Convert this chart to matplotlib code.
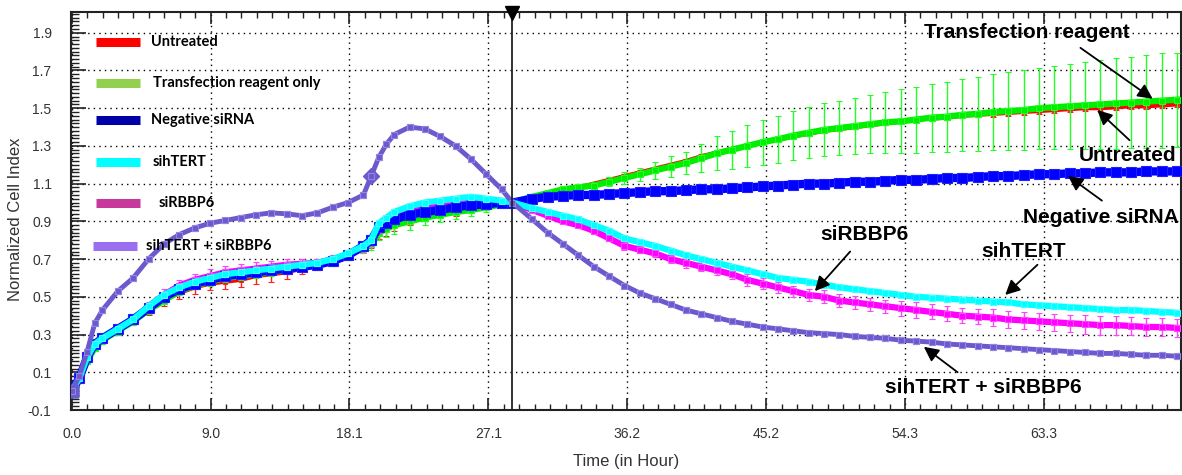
import numpy as np
import matplotlib
matplotlib.use("Agg")
import matplotlib.pyplot as plt
from matplotlib.ticker import FixedLocator, MultipleLocator

# time points (hours) at which the curves were read
hours = [0, 0.5, 1, 1.5, 2, 3, 4, 5, 6, 7, 8, 9, 10, 11, 12, 13, 14, 15, 16, 17, 18, 19, 19.5, 20, 20.5,
         21, 22, 23, 24, 25, 26, 27, 28, 28.7,
         30, 31, 32, 33, 34, 35, 36, 37, 38, 39, 40, 41, 42, 43, 44, 45, 46, 47, 48, 49, 50, 51, 52, 53,
         54, 55, 56, 57, 58, 59, 60, 61, 62, 63, 64, 65, 66, 67, 68, 69, 70, 71, 72]

untreated = [0.0, 0.07, 0.17, 0.24, 0.27, 0.32, 0.37, 0.43, 0.48, 0.52, 0.55, 0.57, 0.58, 0.59, 0.61, 0.62, 0.63,
             0.65, 0.67, 0.69, 0.72, 0.76, 0.79, 0.84, 0.86, 0.88, 0.91, 0.93, 0.94, 0.95, 0.97, 0.98, 0.99, 1.0,
             1.03, 1.05, 1.07, 1.08, 1.10, 1.12, 1.14, 1.16, 1.18, 1.20, 1.22, 1.245, 1.265, 1.285, 1.30, 1.32,
             1.335, 1.35, 1.365, 1.38, 1.39, 1.40, 1.41, 1.42, 1.43, 1.44, 1.445, 1.45, 1.46, 1.465, 1.47, 1.475,
             1.48, 1.485, 1.49, 1.495, 1.50, 1.50, 1.505, 1.51, 1.51, 1.515, 1.52]
untreated_err = [0.01, 0.01, 0.015, 0.015, 0.02, 0.02, 0.02, 0.025, 0.03, 0.03, 0.035, 0.035, 0.04, 0.04, 0.04, 0.04,
                 0.035, 0.03, 0.03, 0.025, 0.025, 0.03, 0.03, 0.035, 0.035, 0.03, 0.03, 0.025, 0.02, 0.02, 0.015,
                 0.01, 0.01, 0.0,
                 0.005, 0.005, 0.005, 0.005, 0.01, 0.01, 0.01, 0.01, 0.01, 0.01, 0.01, 0.01, 0.01, 0.01, 0.01,
                 0.01, 0.01, 0.01, 0.01, 0.01, 0.01, 0.01, 0.01, 0.01, 0.01, 0.01, 0.01, 0.01, 0.01, 0.01, 0.015,
                 0.015, 0.015, 0.015, 0.015, 0.015, 0.015, 0.015, 0.015, 0.015, 0.015, 0.015, 0.015]

transfection = [0.0, 0.06, 0.16, 0.23, 0.27, 0.32, 0.37, 0.43, 0.48, 0.53, 0.56, 0.58, 0.60, 0.61, 0.62, 0.63, 0.645,
                0.66, 0.675, 0.70, 0.72, 0.76, 0.78, 0.84, 0.86, 0.88, 0.90, 0.92, 0.935, 0.95, 0.96, 0.975, 0.99,
                1.0,
                1.03, 1.05, 1.07, 1.08, 1.09, 1.11, 1.13, 1.15, 1.17, 1.19, 1.21, 1.235, 1.26, 1.28, 1.30, 1.32,
                1.335, 1.355, 1.37, 1.385, 1.395, 1.405, 1.415, 1.425, 1.43, 1.44, 1.45, 1.455, 1.465, 1.47, 1.48,
                1.485, 1.49, 1.50, 1.505, 1.51, 1.515, 1.52, 1.525, 1.53, 1.535, 1.54, 1.545]
transfection_err = [0.01, 0.01, 0.015, 0.015, 0.02, 0.02, 0.02, 0.02, 0.02, 0.02, 0.02, 0.02, 0.02, 0.02, 0.02, 0.02,
                    0.02, 0.02, 0.02, 0.02, 0.025, 0.03, 0.03, 0.04, 0.045, 0.045, 0.045, 0.04, 0.04, 0.035, 0.03,
                    0.025, 0.015, 0.0,
                    0.005, 0.01, 0.015, 0.02, 0.02, 0.025, 0.03, 0.035, 0.045, 0.055, 0.06, 0.075, 0.09, 0.10,
                    0.11, 0.12, 0.125, 0.13, 0.135, 0.14, 0.145, 0.15, 0.155, 0.16, 0.17, 0.175, 0.18, 0.185, 0.19,
                    0.195, 0.20, 0.205, 0.21, 0.215, 0.22, 0.225, 0.23, 0.235, 0.24, 0.24, 0.245, 0.25, 0.25]

negative = [0.0, 0.07, 0.18, 0.25, 0.28, 0.33, 0.38, 0.44, 0.50, 0.54, 0.57, 0.59, 0.61, 0.62, 0.63, 0.64, 0.65,
            0.66, 0.67, 0.69, 0.72, 0.77, 0.80, 0.87, 0.89, 0.91, 0.935, 0.95, 0.96, 0.975, 0.985, 0.99, 1.0, 1.0,
            1.02, 1.03, 1.035, 1.04, 1.04, 1.045, 1.05, 1.055, 1.06, 1.06, 1.065, 1.07, 1.07, 1.075, 1.08, 1.085,
            1.09, 1.095, 1.10, 1.10, 1.105, 1.11, 1.11, 1.115, 1.12, 1.12, 1.125, 1.13, 1.13, 1.135, 1.14, 1.14,
            1.145, 1.15, 1.15, 1.155, 1.155, 1.16, 1.16, 1.16, 1.165, 1.165, 1.165]

sihtert = [0.0, 0.07, 0.18, 0.25, 0.28, 0.33, 0.38, 0.45, 0.51, 0.55, 0.58, 0.60, 0.62, 0.63, 0.64, 0.65, 0.66,
           0.67, 0.68, 0.70, 0.73, 0.77, 0.80, 0.89, 0.92, 0.95, 0.98, 1.0, 1.01, 1.02, 1.03, 1.02, 1.01, 1.0,
           0.97, 0.95, 0.93, 0.91, 0.88, 0.85, 0.81, 0.79, 0.77, 0.745, 0.72, 0.70, 0.68, 0.66, 0.64, 0.62,
           0.60, 0.59, 0.58, 0.565, 0.55, 0.54, 0.53, 0.52, 0.51, 0.50, 0.495, 0.49, 0.485, 0.48, 0.475, 0.47,
           0.46, 0.455, 0.45, 0.445, 0.44, 0.435, 0.43, 0.43, 0.425, 0.42, 0.415]

sirbbp6 = [0.0, 0.07, 0.18, 0.25, 0.28, 0.33, 0.38, 0.45, 0.51, 0.56, 0.59, 0.61, 0.63, 0.64, 0.65, 0.66, 0.67,
           0.675, 0.68, 0.70, 0.72, 0.76, 0.79, 0.86, 0.90, 0.93, 0.96, 0.98, 0.99, 1.0, 1.005, 1.005, 1.0, 1.0,
           0.96, 0.93, 0.90, 0.88, 0.85, 0.81, 0.77, 0.75, 0.73, 0.70, 0.68, 0.66, 0.64, 0.62, 0.59, 0.57,
           0.55, 0.53, 0.51, 0.50, 0.48, 0.47, 0.46, 0.45, 0.44, 0.43, 0.42, 0.41, 0.40, 0.395, 0.39, 0.38,
           0.375, 0.37, 0.365, 0.36, 0.355, 0.35, 0.35, 0.345, 0.34, 0.34, 0.335]
sirbbp6_err = [0.01, 0.01, 0.01, 0.015, 0.015, 0.02, 0.02, 0.025, 0.03, 0.03, 0.03, 0.035, 0.035, 0.035, 0.035,
               0.03, 0.03, 0.025, 0.02, 0.02, 0.02, 0.02, 0.02, 0.02, 0.02, 0.02, 0.015, 0.015, 0.015, 0.01, 0.01,
               0.01, 0.01, 0.0,
               0.01, 0.01, 0.01, 0.015, 0.015, 0.015, 0.02, 0.02, 0.02, 0.02, 0.025, 0.025, 0.025, 0.025, 0.03,
               0.03, 0.03, 0.03, 0.03, 0.035, 0.035, 0.035, 0.035, 0.035, 0.04, 0.04, 0.04, 0.04, 0.04, 0.04,
               0.045, 0.045, 0.045, 0.045, 0.045, 0.045, 0.05, 0.05, 0.05, 0.05, 0.05, 0.05, 0.05]

combo = [0.0, 0.08, 0.21, 0.36, 0.43, 0.53, 0.60, 0.70, 0.78, 0.83, 0.865, 0.89, 0.905, 0.92, 0.935, 0.945, 0.94,
         0.93, 0.945, 0.975, 1.0, 1.04, 1.14, 1.24, 1.31, 1.36, 1.40, 1.39, 1.35, 1.30, 1.23, 1.15, 1.07, 1.0,
         0.91, 0.84, 0.78, 0.72, 0.66, 0.61, 0.56, 0.52, 0.49, 0.46, 0.43, 0.41, 0.39, 0.37, 0.355, 0.34,
         0.33, 0.32, 0.31, 0.305, 0.30, 0.29, 0.285, 0.28, 0.27, 0.265, 0.26, 0.25, 0.245, 0.24, 0.235, 0.23,
         0.225, 0.22, 0.215, 0.21, 0.205, 0.20, 0.20, 0.195, 0.19, 0.19, 0.185]

sihtert_err = 0.015
combo_err = 0.015
transfection_hour = 28.7  # time of transfection (vertical marker)

x_tick_labels = ["0.0", "9.0", "18.1", "27.1", "36.2", "45.2", "54.3", "63.3"]
x_tick_step = 9.045

legend_labels = ["Untreated", "Transfection reagent only", "Negative siRNA", "sihTERT", "siRBBP6",
                 "sihTERT + siRBBP6"]
legend_colors = ["#ff0000", "#92d050", "#0000a8", "#00ffff", "#c8389a", "#9a70f0"]

# annotation text, text centre, arrow tail, arrow head (data coords)
notes = [
    ("Transfection reagent", (62.2, 1.90), (65.7, 1.82), (70.4, 1.55)),
    ("Untreated", (68.75, 1.25), (68.9, 1.33), (66.8, 1.49)),
    ("Negative siRNA", (67.0, 0.92), (67.1, 1.01), (64.9, 1.14)),
    ("siRBBP6", (51.6, 0.83), (50.7, 0.74), (48.4, 0.53)),
    ("sihTERT", (62.0, 0.74), (62.9, 0.67), (60.8, 0.51)),
    ("sihTERT + siRBBP6", (59.4, 0.02), (57.7, 0.10), (55.5, 0.235)),
]

fig = plt.figure(figsize=(11.82, 4.75), dpi=100)
ax = fig.add_axes([71 / 1182, 65 / 475, 1110 / 1182, 398 / 475])


def curve(vals, err, color, ecolor, lw, ms, z):
    ax.errorbar(hours, vals, yerr=err, fmt="s-", color=color, ecolor=ecolor, lw=lw, ms=ms,
                mec=ecolor, mew=0.8, elinewidth=1.0, capsize=2, capthick=1.0, zorder=z)
    # big cluster of markers at time zero
    ax.plot(hours[0], vals[0], "s", color=color, ms=9, zorder=z)


curve(untreated, untreated_err, "#ff0000", "#ff2020", 3, 3.5, 3)
curve(transfection, transfection_err, "#00ee00", "#22ff22", 4.5, 4.5, 4)
curve(sirbbp6, sirbbp6_err, "#ff00ff", "#ff44ff", 4.5, 5, 5)
curve(negative, 0.0, "#0000ff", "#2020ff", 6, 6.5, 6)
curve(sihtert, sihtert_err, "#00ffff", "#44ffff", 4.5, 5, 7)
curve(combo, combo_err, "#6a5acd", "#9585e3", 3.5, 4.5, 8)
i_jump = hours.index(19.5)
ax.plot(hours[i_jump], combo[i_jump], "D", color="#6a5acd", ms=8, zorder=8)

ax.axvline(transfection_hour, color="#222222", lw=1.3, zorder=9)
ax.plot([transfection_hour], [0.997], marker="v", color="black", ms=10,
        transform=ax.get_xaxis_transform(), clip_on=False, zorder=10)

ax.set_xlim(-0.05, 72.25)
ax.set_ylim(-0.1, 2.01)
ax.xaxis.set_major_locator(FixedLocator([i * x_tick_step for i in range(len(x_tick_labels))]))
ax.set_xticklabels(x_tick_labels)
ax.xaxis.set_minor_locator(MultipleLocator(x_tick_step / 9))
yt = np.round(np.arange(-0.1, 1.95, 0.2), 1)
ax.yaxis.set_major_locator(FixedLocator(yt))
ax.set_yticklabels(["%.1f" % v for v in yt])
ax.yaxis.set_minor_locator(FixedLocator(np.arange(-0.1, 2.01, 0.02)))

ax.grid(which="major", color="black", linestyle=(0, (1, 3)), linewidth=1.0)
ax.set_axisbelow(True)
for s in ax.spines.values():
    s.set_linewidth(1.5)
    s.set_color("#222222")

ax.tick_params(which="both", direction="in", top=True, right=False, color="#222222",
               labelcolor="#333333", labelsize=10)
ax.tick_params(axis="x", which="major", length=8.5, width=1.2, pad=12)
ax.tick_params(axis="x", which="minor", length=4.3, width=1.0)
ax.tick_params(axis="y", which="major", length=11, width=1.2, pad=14)
ax.tick_params(axis="y", which="minor", length=5.5, width=1.0)
for lab in ax.get_xticklabels() + ax.get_yticklabels():
    lab.set_family(["Liberation Sans", "DejaVu Sans"])

ax.set_xlabel("Time (in Hour)", fontsize=12, color="#333333", family=["Liberation Sans", "DejaVu Sans"])
ax.set_ylabel("Normalized Cell Index", fontsize=12, color="#333333", family=["Liberation Sans", "DejaVu Sans"])
ax.xaxis.set_label_coords(0.5, -0.11)
ax.yaxis.set_label_coords(-0.043, 0.48)

# hand-drawn legend box entries
leg_y = [0.925, 0.822, 0.729, 0.623, 0.520, 0.412]
leg_x = [0.072, 0.074, 0.072, 0.0736, 0.079, 0.0676]
for k, (lab, col) in enumerate(zip(legend_labels, legend_colors)):
    x0 = 0.0225 if k < 5 else 0.0198
    ax.plot([x0, x0 + 0.0397], [leg_y[k], leg_y[k]], color=col, lw=6.5, solid_capstyle="butt",
            transform=ax.transAxes, clip_on=False, zorder=11)
    ax.text(leg_x[k], leg_y[k], lab, transform=ax.transAxes, fontsize=10.5, fontweight="bold",
            family=["Lato", "DejaVu Sans"], va="center", ha="left", zorder=11)

for text, pos, tail, head in notes:
    ax.text(pos[0], pos[1], text, fontsize=15, fontweight="bold", ha="center", va="center",
            family=["Liberation Sans", "DejaVu Sans"], zorder=12)
    ax.annotate("", xy=head, xytext=tail,
                arrowprops=dict(arrowstyle="-|>", color="black", lw=1.3, mutation_scale=22,
                                shrinkA=0, shrinkB=0), zorder=12)

fig.savefig("out.png", dpi=100)
